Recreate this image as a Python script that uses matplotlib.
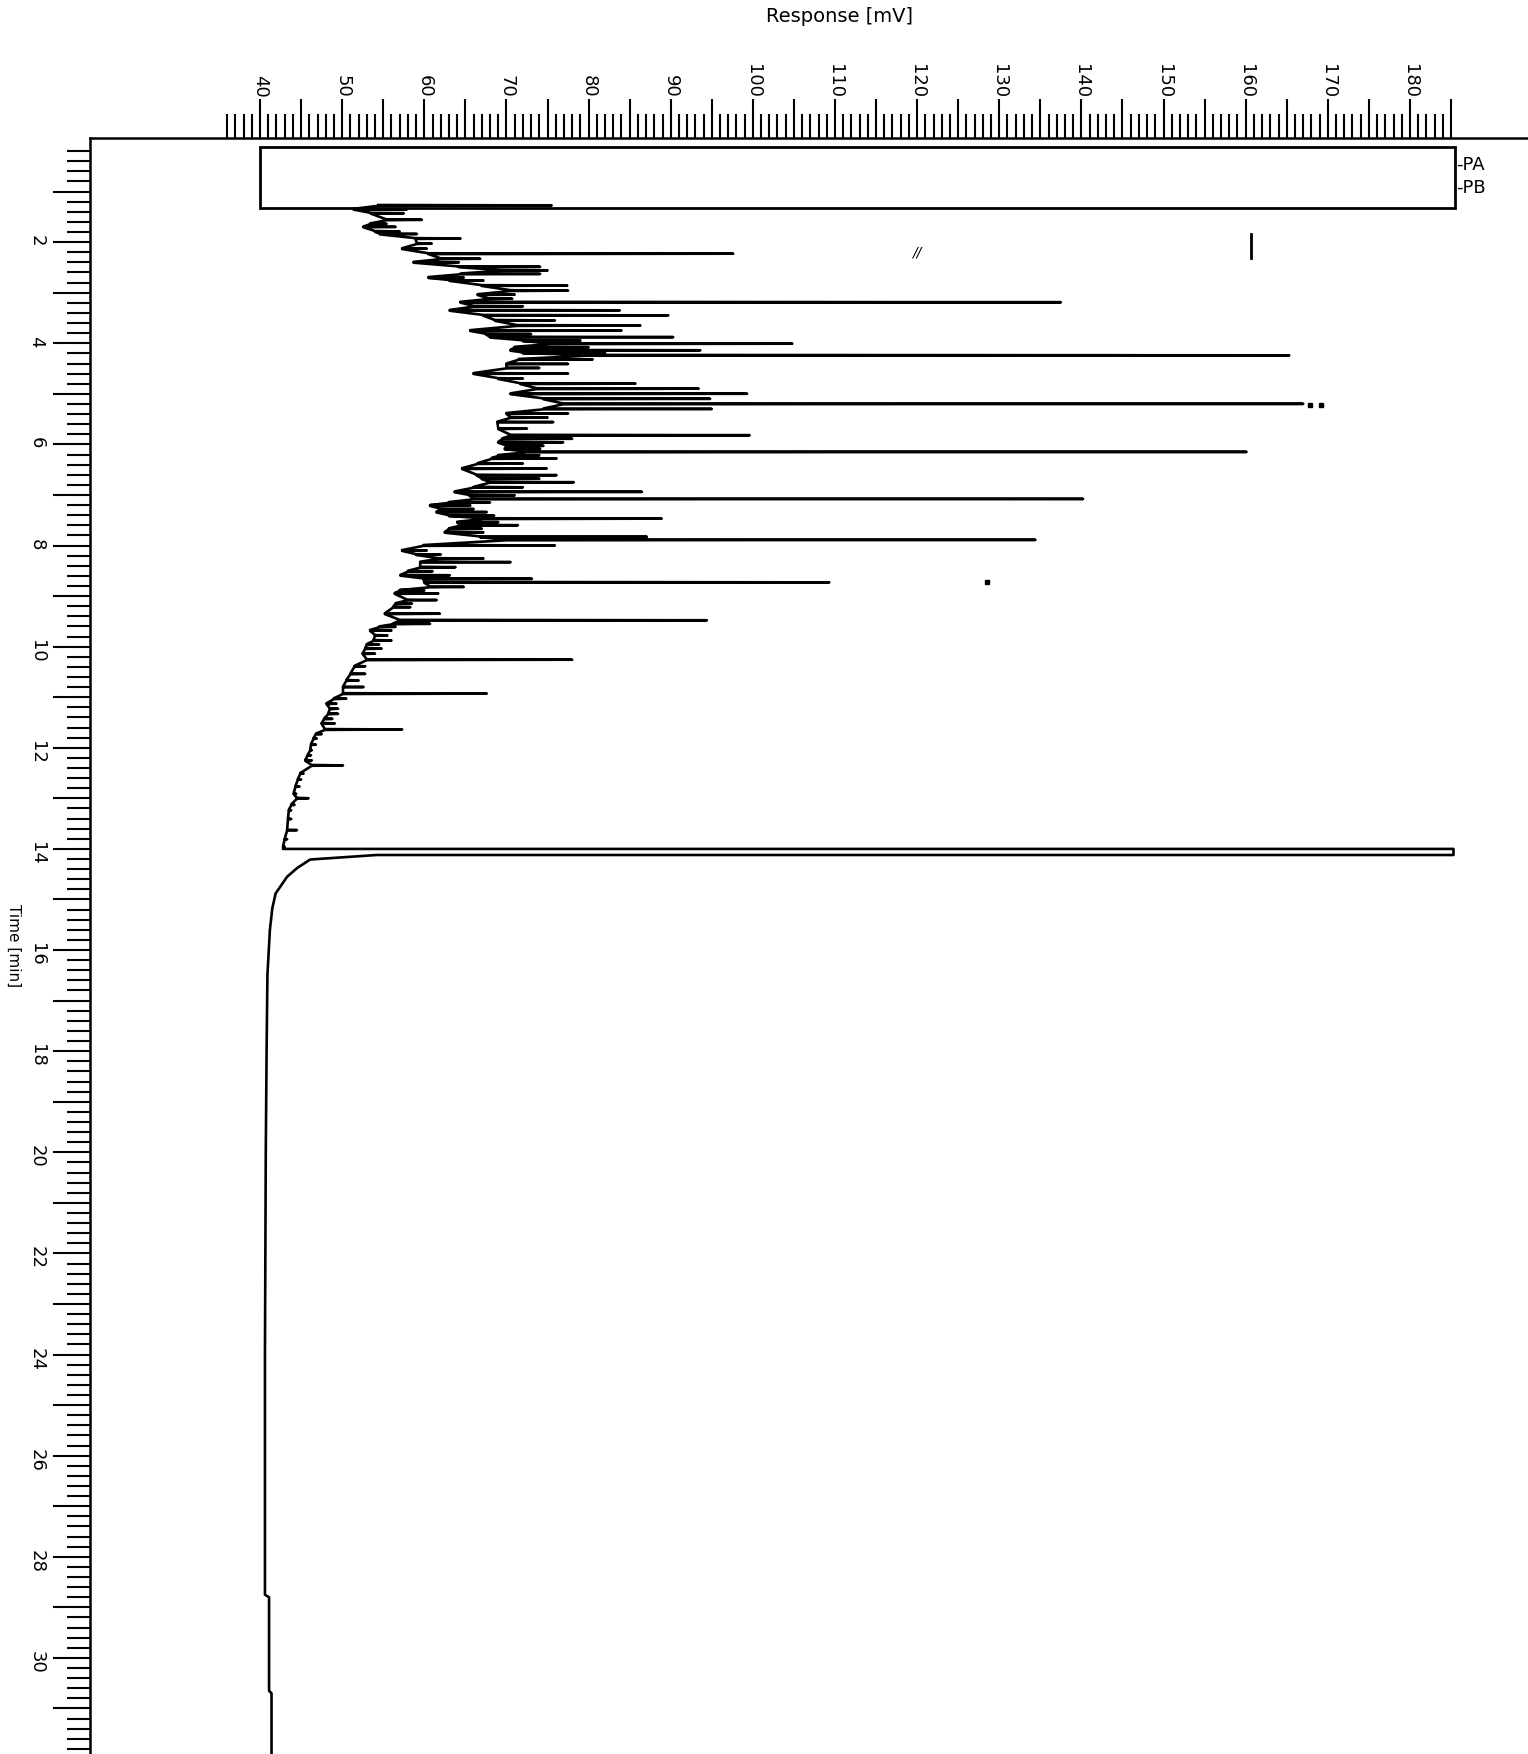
import matplotlib
matplotlib.use("Agg")
import matplotlib.pyplot as plt
from matplotlib.patches import Rectangle
from matplotlib.ticker import FixedLocator, FuncFormatter

# spikes of the trace: time (min), foot and tip of each spike (mV)
ev_t = [1.265, 1.34, 1.42, 1.55, 1.63, 1.69, 1.78, 1.83, 1.92, 2.02,
        2.12, 2.22, 2.32, 2.39, 2.48, 2.55, 2.62, 2.69, 2.75, 2.85,
        2.95, 3.03, 3.11, 3.18, 3.26, 3.34, 3.44, 3.54, 3.64, 3.74,
        3.81, 3.87, 3.94, 4.00, 4.07, 4.13, 4.18, 4.23, 4.31, 4.40,
        4.48, 4.59, 4.69, 4.79, 4.89, 4.99, 5.09, 5.19, 5.29, 5.38,
        5.46, 5.55, 5.68, 5.81, 5.88, 5.95, 6.02, 6.08, 6.14, 6.21,
        6.27, 6.37, 6.47, 6.60, 6.67, 6.74, 6.84, 6.93, 7.00, 7.07,
        7.14, 7.20, 7.27, 7.33, 7.40, 7.46, 7.53, 7.59, 7.66, 7.73,
        7.82, 7.88, 7.99, 8.09, 8.17, 8.25, 8.32, 8.42, 8.50, 8.58,
        8.65, 8.72, 8.81, 8.88, 8.94, 9.07, 9.14, 9.21, 9.34, 9.47,
        9.54, 9.60, 9.67, 9.77, 9.87, 9.95, 10.03, 10.13, 10.25, 10.38,
        10.53, 10.66, 10.79, 10.92, 11.02, 11.12, 11.22, 11.32, 11.42, 11.51,
        11.63, 11.72, 11.81, 11.93, 12.04, 12.14, 12.24, 12.34, 12.50, 12.62,
        12.76, 12.90, 12.99, 13.12, 13.23, 13.40, 13.62, 13.80, 13.95]
ev_lo = [54.4, 51.4, 53.5, 55.4, 53.4, 52.6, 54.0, 54.6, 58.9, 59.1,
         57.3, 60.5, 62.0, 58.7, 64.2, 69.2, 64.4, 60.5, 63.1, 67.0,
         70.5, 66.5, 67.8, 64.4, 66.0, 63.1, 67.2, 68.6, 71.3, 65.6,
         67.5, 68.0, 72.0, 75.3, 71.0, 70.5, 72.0, 79.8, 71.5, 70.0,
         70.0, 66.0, 69.0, 71.7, 73.7, 70.5, 74.5, 76.9, 74.5, 70.0,
         70.5, 68.9, 69.0, 70.5, 69.5, 69.0, 70.0, 69.8, 72.5, 69.0,
         68.2, 66.5, 64.6, 66.4, 67.0, 68.0, 66.0, 63.7, 65.5, 66.0,
         63.0, 60.7, 62.0, 61.5, 63.0, 67.2, 64.0, 64.4, 63.0, 62.5,
         66.8, 70.0, 59.9, 57.3, 59.0, 61.7, 59.5, 59.5, 58.0, 57.1,
         59.9, 60.0, 60.7, 57.0, 56.4, 57.9, 56.5, 56.2, 55.2, 57.0,
         56.2, 54.5, 53.4, 54.0, 53.8, 53.0, 52.8, 52.5, 53.0, 51.5,
         51.0, 50.5, 50.1, 50.1, 49.0, 48.1, 48.5, 48.3, 47.8, 47.5,
         47.9, 46.8, 46.5, 46.2, 46.1, 45.8, 45.5, 46.3, 44.9, 44.6,
         44.3, 44.1, 44.5, 43.8, 43.5, 43.4, 43.3, 43.0, 42.8]
ev_hi = [75.5, 57.9, 57.5, 59.7, 55.4, 56.5, 57.0, 59.1, 64.4, 60.9,
         60.3, 97.6, 66.8, 64.2, 74.1, 75.0, 74.1, 64.8, 67.2, 77.4,
         77.5, 71.0, 70.7, 137.5, 72.0, 83.8, 89.7, 75.9, 86.3, 84.0,
         73.0, 90.3, 79.0, 104.8, 80.0, 93.6, 82.0, 165.3, 80.5, 77.5,
         74.0, 77.5, 72.0, 85.7, 93.4, 99.3, 94.8, 167.0, 95.0, 77.5,
         75.0, 75.7, 72.5, 99.6, 78.0, 76.9, 74.5, 74.1, 160.1, 74.0,
         76.1, 72.0, 74.9, 76.1, 74.0, 78.2, 72.0, 86.5, 71.0, 140.2,
         68.0, 65.6, 66.0, 67.6, 68.5, 88.9, 69.0, 71.4, 67.0, 67.2,
         87.1, 134.4, 75.9, 60.3, 62.0, 67.2, 70.5, 63.8, 61.0, 63.1,
         73.1, 109.3, 64.8, 60.0, 61.7, 61.5, 58.5, 58.3, 61.9, 94.4,
         60.7, 56.5, 56.0, 55.5, 56.0, 54.5, 54.8, 54.0, 78.0, 52.8,
         52.8, 52.0, 52.6, 67.6, 50.5, 49.3, 49.5, 49.5, 48.8, 49.1,
         57.3, 47.5, 46.9, 46.8, 46.3, 46.2, 46.3, 50.1, 45.3, 45.0,
         44.8, 44.4, 45.9, 44.2, 43.8, 43.8, 44.5, 43.3, 43.0]

# main peak near 14 min and the flat tail after it
tail_t = [14.00, 14.00, 14.12, 14.12, 14.18, 14.21, 14.38, 14.55, 14.88, 15.17,
          15.6, 16.5, 18.0, 20.0, 24.0, 28.75, 28.8, 30.65, 30.7, 32.0]
tail_mv = [42.8, 185.3, 185.3, 54.2, 48.7, 46.1, 44.5, 43.3, 41.9, 41.5,
           41.2, 40.9, 40.8, 40.7, 40.6, 40.6, 41.1, 41.1, 41.4, 41.4]

# window box drawn at the top (PA / PB)
window_mv = [40.0, 185.5]
window_t = [0.12, 1.32]

# stray marks on the scan
bar_mv = [160.7, 160.7]
bar_t = [1.83, 2.31]
dot_mv = [167.8, 169.2, 128.5]
dot_t = [5.22, 5.22, 8.72]

mv_labels = list(range(40, 181, 10))
time_labels = list(range(2, 31, 2))

path_t, path_mv = [], []
for t, lo, hi in zip(ev_t, ev_lo, ev_hi):
    path_t += [t, t + 0.008, t + 0.016]
    path_mv += [lo, hi, lo]
path_t += tail_t
path_mv += tail_mv

W, H = 1528, 1754
fig = plt.figure(figsize=(W / 100, H / 100), dpi=100)
ax = fig.add_axes([90 / W, 0, (W - 90) / W, (H - 138) / H])

ax.plot(path_mv, path_t, color="black", lw=1.9, solid_joinstyle="round")
ax.add_patch(Rectangle((window_mv[0], window_t[0]), window_mv[1] - window_mv[0],
                       window_t[1] - window_t[0], fill=False, lw=2.0, ec="black"))
ax.text(window_mv[1] + 0.1, 0.47, "-PA", ha="left", va="center", fontsize=13)
ax.text(window_mv[1] + 0.1, 0.93, "-PB", ha="left", va="center", fontsize=13)
ax.plot(bar_mv, bar_t, color="black", lw=2)
ax.plot(dot_mv, dot_t, "s", color="black", ms=2.5)
ax.text(120, 2.2, "//", fontsize=10, style="italic", ha="center", va="center")

ax.set_xlim(19.3, 194.37)
ax.set_ylim(31.9, -0.06)

for s in ["right", "bottom"]:
    ax.spines[s].set_visible(False)
for s in ["left", "top"]:
    ax.spines[s].set_linewidth(1.8)

# top axis: response
ax.xaxis.tick_top()
ax.xaxis.set_label_position("top")
ax.xaxis.set_major_locator(FixedLocator(list(range(40, 186, 5))))
ax.xaxis.set_minor_locator(FixedLocator([v for v in range(36, 186) if v % 5]))
ax.xaxis.set_major_formatter(FuncFormatter(lambda v, p: f"{v:.0f}" if round(v) in mv_labels else ""))
ax.tick_params(axis="x", which="major", length=28, width=1.5, pad=1, labelsize=13, labelrotation=-90)
ax.tick_params(axis="x", which="minor", length=17, width=1.5)
ax.set_xlabel("Response [mV]", fontsize=14)
ax.xaxis.set_label_coords(0.521, 1.072)

# left axis: time
ax.yaxis.set_major_locator(FixedLocator(list(range(1, 32))))
ax.yaxis.set_minor_locator(FixedLocator([i * 0.2 for i in range(1, 160) if i % 5]))
ax.yaxis.set_major_formatter(FuncFormatter(lambda v, p: f"{v:.0f}" if round(v) in time_labels else ""))
ax.tick_params(axis="y", which="major", length=27, width=1.5, pad=5, labelsize=13, labelrotation=-90)
ax.tick_params(axis="y", which="minor", length=16.5, width=1.5)
ax.set_ylabel("Time [min]", fontsize=11, rotation=-90)
ax.yaxis.set_label_coords(-84 / (W - 90), 0.5)

fig.savefig("out.png", dpi=100)
